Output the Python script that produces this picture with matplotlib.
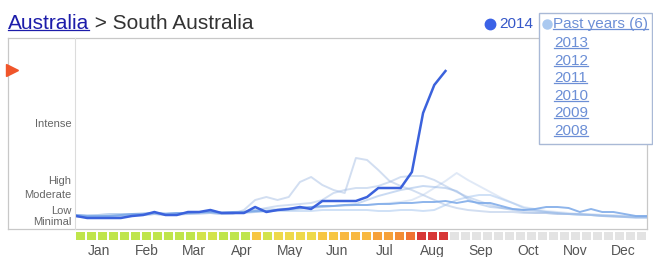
import matplotlib
matplotlib.use("Agg")
import matplotlib.pyplot as plt
from matplotlib.lines import Line2D
from matplotlib.patches import Rectangle

plt.rcParams["font.family"] = ["Liberation Sans", "DejaVu Sans"]

W, H = 653, 257

# weekly interest, arbitrary units (0 = bottom of chart, 191 = top)
y2014 = [13, 11, 11, 11, 11, 13, 14, 17, 14, 14, 17, 17, 19, 16, 16, 16, 22, 17,
         19, 20, 22, 20, 28, 28, 28, 28, 32, 41, 41, 41, 57, 116, 144, 158]

past = {
    "2013": [13, 12, 12, 13, 13, 14, 14, 15, 14, 14, 15, 15, 16, 15, 15,
             19, 29, 32, 29, 32, 47, 52, 44, 39, 36, 71, 69,
             59, 48, 43, 39, 34, 29, 24, 21, 19, 18, 17, 17, 17, 16, 16, 16, 15, 15, 15, 14, 14, 13, 13, 12, 12],
    "2012": [14, 13, 14, 15, 15, 15, 16, 16, 15, 16, 16, 17, 17, 16, 16,
             17, 19, 21, 23, 24, 25, 26, 29,
             36, 39, 41, 41, 43, 47, 52, 53, 53, 49, 43, 37, 32, 28, 24,
             21, 19, 17, 16, 16, 15, 15, 14, 14, 13, 12, 12, 12, 12],
    "2011": [12, 12, 13, 13, 14, 14, 14, 15, 15, 15, 16, 16, 17, 17, 17, 18, 19, 20, 20, 21, 21,
             22, 22, 23, 23, 24, 24, 25, 26, 27, 29, 34, 41, 48, 56,
             49, 43, 37, 31, 26, 22, 20, 18, 17, 16, 15, 15, 14, 14, 13, 13, 13],
    "2010": [13, 12, 12, 13, 13, 14, 14, 15, 14, 15, 15, 16, 16, 15, 16, 16, 17, 18, 19, 19, 20, 21, 22, 23, 24, 25,
             29, 33, 36, 39, 41, 43, 42, 41, 38,
             30, 25, 22, 21, 20, 19, 18, 17, 16, 15, 15, 14, 13, 13, 12, 11, 11],
    "2009": [14, 14, 14, 15, 15, 15, 15, 16, 16, 16, 16, 16, 17, 17, 17, 17, 17, 18, 18, 18, 18, 18,
             19, 19, 19, 19, 19, 18, 18, 19, 19, 18, 19,
             24, 29, 32, 34, 34, 30, 26, 21, 19, 17, 16, 15, 14, 14, 13, 13, 12, 12, 12],
    "2008": [14, 13, 13, 13, 14, 15, 15, 16, 15, 16, 16, 17, 17, 16, 17, 17, 18, 18, 19, 20, 21,
             22, 23, 23, 24, 24, 24, 25, 25, 26, 26, 27,
             27, 28, 26, 28, 26, 26, 23, 20, 19, 20, 22, 22, 21, 17, 20, 17, 17, 15, 13, 13],
}
past_colors = {"2013": ("#b4c9e8", 0.6), "2012": ("#a7c0e6", 0.5), "2011": ("#c8d8f0", 0.55),
               "2010": ("#94b6e6", 0.5), "2009": ("#a9c8f0", 0.55), "2008": ("#7aa8e8", 0.85)}

# heat strip level per week (0 = no data yet)
heat = [1] * 11 + [2, 2, 1, 1, 1, 4, 2, 3, 3, 3, 3, 4, 4, 5, 5, 5, 6, 6, 7, 8, 9, 9, 9] + [0] * 18
heat_colors = ["#e3e3e3", "#bfe54b", "#d3e34b", "#eed94a", "#f7c643",
               "#f8b840", "#f6a139", "#f38c34", "#f07232", "#d73636"]

months = ["Jan", "Feb", "Mar", "Apr", "May", "Jun", "Jul", "Aug", "Sep", "Oct", "Nov", "Dec"]
levels = ["Intense", "High", "Moderate", "Low", "Minimal"]
level_pos = [105, 48, 34, 18, 7]


def fx(px):
    return px / W


def fy(py):
    return 1 - py / H


fig = plt.figure(figsize=(W / 100, H / 100), dpi=100)
fig.patch.set_facecolor("white")

# outer frame
bg = fig.add_axes([fx(8), fy(229), fx(647 - 8), 191 / H])
bg.set_xticks([])
bg.set_yticks([])
for s in bg.spines.values():
    s.set_color("#c8c8c8")
    s.set_linewidth(0.9)

ax = fig.add_axes([fx(75), fy(229), fx(647 - 75), 191 / H])
ax.patch.set_alpha(0)
ax.set_xlim(-0.09, 51.0)
ax.set_ylim(0, 191)
ax.set_xticks([])
ax.set_yticks([])
for name, s in ax.spines.items():
    s.set_visible(name == "left")
ax.spines["left"].set_color("#dcdcdc")

weeks = list(range(52))
for yr in ["2011", "2013", "2012", "2009", "2010", "2008"]:
    c, a = past_colors[yr]
    ax.plot(weeks, past[yr], color=c, alpha=a, lw=1.4, solid_joinstyle="round")
ax.plot(range(len(y2014)), y2014, color="#3b62dc", lw=1.8, solid_joinstyle="round")

# red marker on the left edge
ax.plot([-5.75], [159], marker=">", ms=8, color="#f0552a", clip_on=False, ls="none")

for lab, pos in zip(levels, level_pos):
    ax.text(-0.006, pos, lab, transform=ax.get_yaxis_transform(), ha="right", va="center",
            fontsize=8, color="#666666")

# heat strip
hx = fig.add_axes([fx(75), fy(240), fx(647 - 75), 8.5 / H])
hx.set_xlim(0, 52)
hx.set_ylim(0, 1)
hx.bar([i + 0.5 for i in weeks], [1] * 52, width=0.82,
       color=[heat_colors[h] for h in heat])
for s in hx.spines.values():
    s.set_visible(False)
hx.set_yticks([])
hx.set_xticks([(m + 0.5) * 52 / 12 for m in range(12)])
hx.set_xticklabels(months, fontsize=10, color="#555555")
hx.tick_params(axis="x", length=0, pad=3)

# title
t1 = fig.text(fx(8), fy(23.5), "Australia", fontsize=15, color="#1c1caa", va="center")
fig.canvas.draw()
r = fig.canvas.get_renderer()
b1 = t1.get_window_extent(r)
fig.text(b1.x1 / W, fy(23.5), " > South Australia", fontsize=15, color="#333333", va="center")

# legend
fig.add_artist(Line2D([fx(490)], [fy(24)], marker="o", ms=7.5, color="#3b62e6",
                      transform=fig.transFigure))
fig.text(fx(499), fy(24), "2014", fontsize=11, color="#3557c8", va="center")
fig.add_artist(Rectangle((fx(539), fy(144)), fx(652 - 539), (144 - 13) / H,
                         transform=fig.transFigure, facecolor="white",
                         edgecolor="#a9b9d6", lw=1.0, zorder=5))
fig.add_artist(Line2D([fx(547)], [fy(24)], marker="o", ms=6.5, color="#aac9f0",
                      transform=fig.transFigure, zorder=6))
links = [("Past years (6)", 24)] + [(yr, y) for yr, y in zip(past.keys(), [43, 61, 78, 96, 113, 131])]
link_texts = []
for lab, y in links:
    x = 553 if lab.startswith("Past") else 554
    link_texts.append(fig.text(fx(x), fy(y), lab, fontsize=11, color="#6c8fd6", va="center", zorder=7))

fig.canvas.draw()
under = [(t1, "#1c1caa")] + [(t, "#6c8fd6") for t in link_texts]
for t, c in under:
    b = t.get_window_extent(r)
    yb = b.y0 + b.height * 0.16
    fig.add_artist(Line2D([b.x0 / W, b.x1 / W], [yb / H, yb / H], color=c, lw=0.9,
                          transform=fig.transFigure, zorder=8))

fig.savefig("out.png", dpi=100)
